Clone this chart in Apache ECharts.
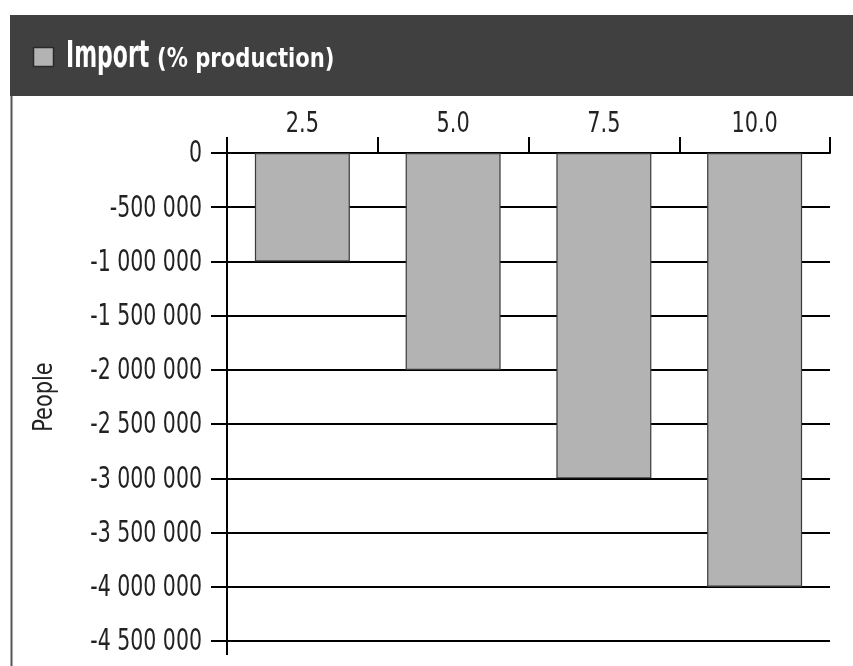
<!DOCTYPE html>
<html>
<head>
<meta charset="utf-8">
<script src="https://cdn.jsdelivr.net/npm/echarts@6/dist/echarts.min.js"></script>
<style>
  html, body { margin: 0; padding: 0; background: #fff; }
  #chart { width: 853px; height: 666px; }
</style>
</head>
<body>
<div id="chart"></div>
<script>
// Import share of production (category) and the resulting change in people
const categories = ['2.5', '5.0', '7.5', '10.0'];
const importPeople = [-1000000, -2000000, -3000000, -4000000];
const yTickValues = [0, -500000, -1000000, -1500000, -2000000, -2500000, -3000000, -3500000, -4000000, -4500000];
const seriesName = 'Import';
const seriesUnit = '(% production)';
const yAxisTitle = 'People';

const yMin = -4500000;
const yMax = 0;
const yStep = 500000;

const FONT = "'DejaVu Sans Condensed', 'DejaVu Sans', sans-serif";
const INK = '#222';

function spaced(v) {
  const s = String(Math.abs(v)).replace(/\B(?=(\d{3})+(?!\d))/g, ' ');
  return (v < 0 ? '-' : '') + s;
}

const chart = echarts.init(document.getElementById('chart'), null, { renderer: 'canvas' });

chart.setOption({
  backgroundColor: '#ffffff',
  animation: false,
  grid: { left: 227, right: 23, top: 153, bottom: 25, containLabel: false },
  xAxis: {
    type: 'category',
    position: 'top',
    data: categories,
    boundaryGap: true,
    axisLine: { show: true, onZero: false, lineStyle: { color: '#000', width: 2 } },
    axisTick: { show: true, length: 16, inside: false, alignWithLabel: false, lineStyle: { color: '#000', width: 2 } },
    axisLabel: { show: false },
    splitLine: { show: false }
  },
  yAxis: {
    type: 'value',
    min: yMin,
    max: yMax,
    interval: yStep,
    axisLine: { show: true, onZero: false, lineStyle: { color: '#000', width: 2 } },
    axisTick: { show: true, length: 16, inside: false, lineStyle: { color: '#000', width: 2 } },
    axisLabel: { show: false },
    splitLine: { show: true, lineStyle: { color: '#000', width: 2 } }
  },
  series: [{
    name: seriesName,
    type: 'bar',
    data: importPeople,
    barCategoryGap: '37%',
    itemStyle: { color: '#b3b3b3', borderColor: '#3a3a3a', borderWidth: 1.2 }
  }]
});

// Narrow, tall lettering: labels are laid out at the axis positions and squeezed horizontally
const graphics = [];

// header band and frame line
graphics.push({ type: 'rect', z: -10, silent: true, shape: { x: 10, y: 15, width: 843, height: 81 }, style: { fill: '#404040' } });
graphics.push({ type: 'line', z: -10, silent: true, shape: { x1: 11.5, y1: 96, x2: 11.5, y2: 666 }, style: { stroke: '#555', lineWidth: 2 } });

// series key in the header
graphics.push({ type: 'rect', silent: true, shape: { x: 33.5, y: 47.5, width: 20, height: 19 }, style: { fill: '#b3b3b3', stroke: '#2a2a2a', lineWidth: 1.5 } });
graphics.push({
  type: 'text', silent: true, x: 66, y: 57, scaleX: 0.66,
  style: { text: seriesName, fill: '#fff', font: 'bold 37px ' + FONT, align: 'left', verticalAlign: 'middle' }
});
graphics.push({
  type: 'text', silent: true, x: 157, y: 60, scaleX: 0.87,
  style: { text: seriesUnit, fill: '#fff', font: 'bold 27px ' + FONT, align: 'left', verticalAlign: 'middle' }
});

// value axis labels
const axisX = chart.convertToPixel({ xAxisIndex: 0 }, 0) -
  (chart.convertToPixel({ xAxisIndex: 0 }, 1) - chart.convertToPixel({ xAxisIndex: 0 }, 0)) / 2;
yTickValues.forEach(function (v) {
  const py = chart.convertToPixel({ yAxisIndex: 0 }, v);
  graphics.push({
    type: 'text', silent: true, x: axisX - 25, y: py + 1.5, scaleX: 0.76,
    style: { text: spaced(v), fill: INK, font: '30px ' + FONT, align: 'right', verticalAlign: 'middle' }
  });
});

// category labels above the top axis
const yTop = chart.convertToPixel({ yAxisIndex: 0 }, yMax);
categories.forEach(function (c, i) {
  const px = chart.convertToPixel({ xAxisIndex: 0 }, i);
  graphics.push({
    type: 'text', silent: true, x: px, y: yTop - 29, scaleX: 0.8,
    style: { text: c, fill: INK, font: '29px ' + FONT, align: 'center', verticalAlign: 'middle' }
  });
});

// value axis title, reading upwards
const yBottom = chart.convertToPixel({ yAxisIndex: 0 }, yMin);
graphics.push({
  type: 'text', silent: true, x: 45, y: (yTop + yBottom) / 2, rotation: Math.PI / 2, scaleX: 0.86,
  style: { text: yAxisTitle, fill: INK, font: '27px ' + FONT, align: 'center', verticalAlign: 'middle' }
});

// value axis line continues a little past the last tick
graphics.push({ type: 'line', silent: true, shape: { x1: axisX, y1: yBottom, x2: axisX, y2: yBottom + 14 }, style: { stroke: '#000', lineWidth: 2 } });

chart.setOption({ graphic: graphics });
</script>
</body>
</html>
